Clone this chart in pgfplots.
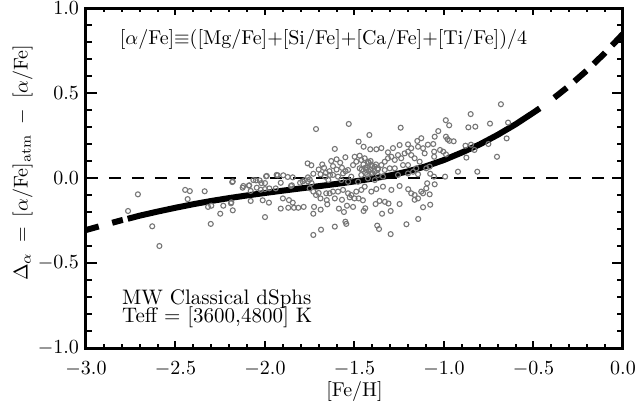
\documentclass[border=0pt]{standalone}
\usepackage{pgfplots}
\pgfplotsset{compat=1.18}
\definecolor{markgray}{RGB}{118,118,118}
\pgfplotstableread{
x y
-2.765 -0.194
-2.71 -0.096
-2.63 -0.284
-2.59 -0.400
-2.446 -0.070
-2.42 -0.077
-2.432 -0.124
-2.337 -0.078
-2.318 -0.170
-2.300 -0.163
-2.303 -0.270
-2.250 -0.210
-2.233 -0.163
-2.190 -0.149
-2.180 -0.190
-2.183 -0.024
-2.188 -0.143
-2.125 -0.057
-2.090 -0.045
-2.080 -0.076
-2.046 -0.057
-2.024 -0.069
-2.000 -0.065
-1.976 -0.061
-1.940 -0.061
-2.080 -0.135
-2.013 -0.131
-1.978 -0.145
-2.000 -0.230
-1.912 -0.180
-1.900 -0.120
-1.866 -0.130
-1.870 -0.175
-1.845 -0.145
-1.838 -0.175
-1.814 -0.175
-1.784 -0.170
-1.855 -0.047
-1.994 0.010
-1.929 0.016
-1.898 0.016
-1.873 0.006
-1.845 0.004
-1.912 -0.028
-2.050 -0.014
-2.020 -0.030
-2.000 -0.030
-2.030 -0.014
-2.180 -0.020
-1.850 -0.043
-2.088 -0.043
-2.121 -0.047
-1.760 0.004
-1.750 -0.008
-1.730 0.025
-1.690 0.022
-1.790 -0.020
-1.760 -0.020
-1.740 -0.030
-1.715 0.288
-1.762 0.086
-1.741 0.075
-2.065 -0.012
-1.990 0.012
-1.935 0.018
-1.804 -0.028
-1.777 -0.012
-1.750 -0.061
-1.730 -0.080
-1.715 -0.100
-1.700 -0.088
-1.690 -0.120
-1.658 -0.090
-1.655 -0.130
-1.652 -0.155
-1.726 -0.170
-1.689 -0.186
-1.730 -0.210
-1.687 -0.304
-1.730 -0.335
-1.665 0.008
-1.646 -0.012
-1.637 0.018
-1.70 0.05
-1.67 0.06
-1.64 0.04
-1.62 0.07
-1.66 0.03
-1.60 0.05
-1.58 0.09
-1.57 0.06
-1.55 0.04
-1.60 0.11
-1.63 0.10
-1.68 0.08
-1.532 0.318
-1.242 0.296
-1.417 0.253
-1.477 0.214
-1.610 0.171
-1.449 0.184
-1.412 0.169
-1.378 0.169
-1.350 0.176
-1.551 0.122
-1.313 0.151
-1.285 0.176
-1.248 0.194
-1.201 0.198
-1.149 0.218
-1.127 0.234
-1.183 0.175
-1.499 0.125
-1.471 0.131
-1.490 0.096
-1.462 0.106
-1.443 0.116
-1.425 0.096
-1.406 0.076
-1.387 0.067
-1.369 0.057
-1.350 0.076
-1.331 0.096
-1.313 0.116
-1.294 0.125
-1.275 0.106
-1.257 0.135
-1.239 0.116
-1.220 0.145
-1.201 0.155
-1.183 0.135
-1.164 0.116
-1.145 0.184
-1.117 0.175
-1.108 0.145
-1.136 0.096
-1.155 0.057
-1.173 0.037
-1.201 0.076
-1.229 0.076
-1.275 0.057
-1.303 0.057
-1.331 0.047
-1.369 0.018
-1.406 0.027
-1.434 0.047
-1.471 0.057
-1.508 0.076
-1.536 0.047
-1.564 0.027
-1.592 0.008
-1.620 0.018
-1.518 0.008
-1.574 -0.012
-1.462 0.018
-1.425 -0.002
-1.480 -0.022
-1.536 -0.022
-1.387 -0.012
-1.341 0.008
-1.257 0.018
-1.201 0.027
-1.145 0.022
-1.099 0.057
-1.43 0.06
-1.42 0.04
-1.41 0.05
-1.44 0.03
-1.40 0.07
-1.45 0.08
-1.39 0.04
-1.42 0.09
-1.43 0.02
-1.41 0.10
-1.38 0.08
-1.44 0.06
-1.40 0.03
-1.46 0.05
-1.37 0.05
-1.610 -0.286
-1.551 -0.257
-1.546 -0.270
-1.373 -0.280
-1.363 -0.300
-1.298 -0.330
-1.210 -0.272
-1.144 -0.241
-1.587 -0.180
-1.559 -0.200
-1.508 -0.170
-1.542 -0.163
-1.449 -0.194
-1.440 -0.178
-1.346 -0.210
-1.298 -0.194
-1.382 -0.153
-1.360 -0.135
-1.330 -0.140
-1.310 -0.150
-1.248 -0.153
-1.117 -0.172
-1.610 -0.120
-1.570 -0.128
-1.527 -0.114
-1.500 -0.120
-1.477 -0.120
-1.453 -0.131
-1.164 -0.128
-1.145 -0.120
-1.117 -0.090
-1.183 -0.090
-1.200 -0.066
-1.248 -0.047
-1.294 -0.070
-1.639 -0.090
-1.620 -0.080
-1.592 -0.080
-1.564 -0.070
-1.536 -0.090
-1.518 -0.100
-1.490 -0.080
-1.462 -0.070
-1.443 -0.051
-1.406 -0.080
-1.378 -0.065
-1.341 -0.051
-1.164 -0.100
-1.127 -0.080
-1.099 -0.061
-0.851 0.376
-0.990 0.340
-0.971 0.310
-0.864 0.298
-0.825 0.302
-0.743 0.320
-0.642 0.326
-0.650 0.233
-0.704 0.125
-1.032 0.276
-1.052 0.243
-0.989 0.243
-0.980 0.228
-0.970 0.219
-0.946 0.216
-0.880 0.190
-0.849 0.196
-0.830 0.165
-0.752 0.200
-0.875 0.120
-0.922 0.037
-0.814 0.037
-0.994 0.008
-1.056 0.008
-1.077 0.025
-1.052 -0.037
-1.080 -0.096
-1.077 -0.157
-1.094 -0.031
-1.060 0.200
-1.090 0.196
-1.055 0.155
-1.055 0.125
-1.022 0.165
-1.004 0.155
-0.989 0.139
-1.080 0.067
-0.682 0.434
}\stars
\pgfplotstableread{
x y
-2.767 -0.240
-2.70 -0.2215
-2.60 -0.1975
-2.50 -0.175
-2.40 -0.154
-2.30 -0.135
-2.20 -0.118
-2.10 -0.1025
-2.00 -0.088
-1.90 -0.0743
-1.80 -0.0611
-1.70 -0.0481
-1.60 -0.0346
-1.50 -0.0201
-1.40 -0.0036
-1.30 0.0154
-1.20 0.0394
-1.10 0.0694
-1.00 0.106
-0.90 0.150
-0.80 0.198
-0.70 0.254
-0.60 0.316
-0.50 0.385
-0.465 0.410
}\fitsolid
\pgfplotstableread{
x y
-2.767 -0.240
-2.80 -0.248
-2.90 -0.2765
-3.00 -0.306
}\fitleft
\pgfplotstableread{
x y
-0.465 0.410
-0.40 0.459
-0.30 0.5424
-0.20 0.6344
-0.10 0.7364
0.00 0.848
}\fitright
\begin{document}
\begin{tikzpicture}
\begin{axis}[
  scale only axis, width=268.5pt, height=170pt,
  xmin=-3, xmax=0, ymin=-1, ymax=1,
  xtick={-3,-2.5,-2,-1.5,-1,-0.5,0},
  ytick={-1,-0.5,0,0.5,1},
  minor x tick num=4, minor y tick num=4,
  tick align=inside,
  xtick style={black, line width=1pt, /pgfplots/major tick length=3.6pt, /pgfplots/minor tick length=1.8pt},
  ytick style={black, line width=1pt, /pgfplots/major tick length=5.5pt, /pgfplots/minor tick length=2.8pt},
  axis line style={line width=1.5pt},
  xticklabel style={/pgf/number format/.cd, fixed, fixed zerofill, precision=1, /tikz/.cd, yshift=-3.5pt},
  yticklabel style={/pgf/number format/.cd, fixed, fixed zerofill, precision=1},
  xlabel={[Fe/H]},
  xlabel style={at={(axis description cs:0.5,0)}, anchor=base, yshift=-24.3pt},
  ylabel={$\Delta_\alpha$ \,=\, [$\alpha$/Fe]$_{\mathrm{atm}}$ \,$-$\, [$\alpha$/Fe]},
  ylabel style={at={(axis description cs:-0.118,0.545)}, anchor=center},
  clip=true,
]
\addplot[black, line width=0.7pt, dash pattern=on 6pt off 5.5pt] coordinates {(-3,0) (0,0)};
\addplot[only marks, mark=o, mark size=1.25pt, mark options={line width=0.55pt, draw=markgray}] table[x=x,y=y] {\stars};
\addplot[black, line width=3pt, line cap=butt] table[x=x,y=y] {\fitsolid};
\addplot[black, line width=3pt, line cap=butt, dash pattern=on 0pt off 2.5pt on 5.5pt off 7pt on 10pt off 1pt] table[x=x,y=y] {\fitleft};
\addplot[black, line width=3pt, line cap=butt, dash pattern=on 0pt off 9pt on 8pt off 5pt on 8pt off 5pt on 8pt off 5pt on 8pt off 5pt] table[x=x,y=y] {\fitright};
\node[anchor=base west, font=\fontsize{10}{12}\selectfont] at (axis description cs:0.050,0.894) {[$\alpha$/Fe]$\equiv$([Mg/Fe]+[Si/Fe]+[Ca/Fe]+[Ti/Fe])/4};
\node[anchor=base west, font=\fontsize{10.5}{12}\selectfont] at (axis description cs:0.054,0.129) {MW Classical dSphs};
\node[anchor=base west, font=\fontsize{10.5}{12}\selectfont] at (axis description cs:0.054,0.076) {Teff = [3600,4800] K};
\end{axis}
\pgfresetboundingbox
\path[use as bounding box] ([shift={(-43pt,-27.5pt)}]current axis.south west) rectangle ([shift={(7pt,4pt)}]current axis.north east);
\end{tikzpicture}
\end{document}
